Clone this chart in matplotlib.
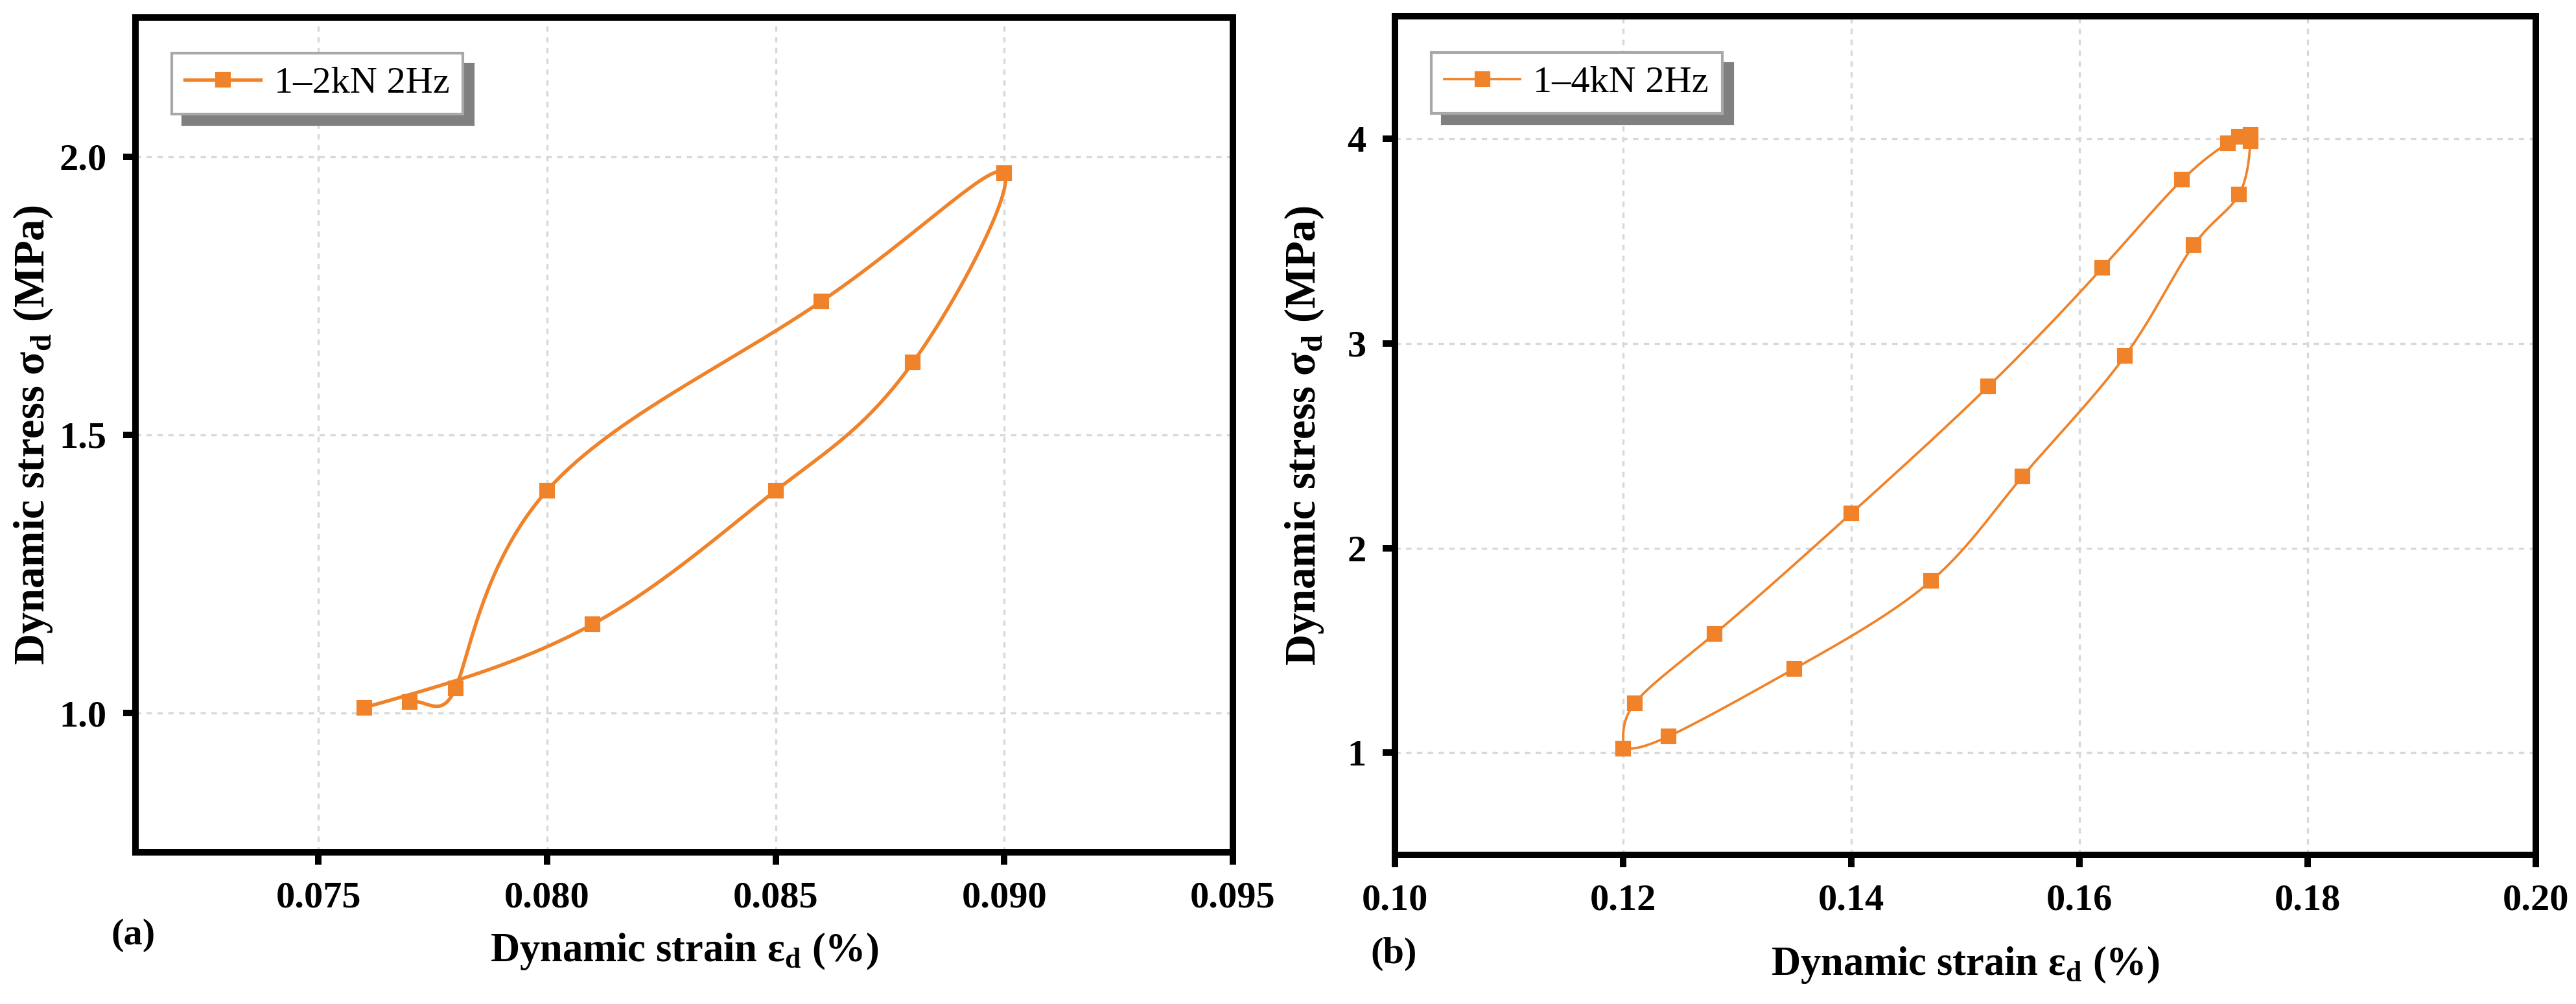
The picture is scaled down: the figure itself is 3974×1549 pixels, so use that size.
import numpy as np
import matplotlib
matplotlib.use("Agg")
import matplotlib.pyplot as plt

plt.rcParams['font.family'] = ['Liberation Serif', 'DejaVu Serif']
plt.rcParams['mathtext.fontset'] = 'custom'
plt.rcParams['mathtext.rm'] = 'Liberation Serif'
plt.rcParams['mathtext.bf'] = 'Liberation Serif:bold'

# ---- data (in drawing order) ----
strain_a = [0.077, 0.078, 0.080, 0.086, 0.090, 0.088, 0.085, 0.081, 0.076]
stress_a = [1.02, 1.045, 1.40, 1.74, 1.97, 1.63, 1.40, 1.16, 1.01]
label_a = '1–2kN 2Hz'

strain_b = [0.120, 0.121, 0.128, 0.140, 0.152, 0.162, 0.169, 0.173, 0.174, 0.175,
            0.175, 0.174, 0.170, 0.164, 0.155, 0.147, 0.135, 0.124, 0.120]
stress_b = [1.02, 1.24, 1.58, 2.17, 2.79, 3.37, 3.80, 3.98, 4.01, 4.02,
            3.99, 3.73, 3.48, 2.94, 2.35, 1.84, 1.41, 1.08, 1.02]
label_b = '1–4kN 2Hz'

xticks_a = [0.075, 0.080, 0.085, 0.090, 0.095]
yticks_a = [1.0, 1.5, 2.0]
xticks_b = [0.10, 0.12, 0.14, 0.16, 0.18, 0.20]
yticks_b = [1, 2, 3, 4]

ORANGE = '#F0832A'


def cubic_spline(t, v, tt, d0=None):
    """1-d cubic spline v(t); natural ends, or clamped start slope d0"""
    m = len(t)
    h = np.diff(t)
    A = np.zeros((m, m))
    B = np.zeros(m)
    if d0 is None:
        A[0, 0] = 1
    else:
        A[0, 0], A[0, 1] = 2 * h[0], h[0]
        B[0] = 6 * ((v[1] - v[0]) / h[0] - d0)
    A[-1, -1] = 1
    for i in range(1, m - 1):
        A[i, i - 1] = h[i - 1]
        A[i, i] = 2 * (h[i - 1] + h[i])
        A[i, i + 1] = h[i]
        B[i] = 6 * ((v[i + 1] - v[i]) / h[i] - (v[i] - v[i - 1]) / h[i - 1])
    M = np.linalg.solve(A, B)
    k = np.clip(np.searchsorted(t, tt) - 1, 0, m - 2)
    hk = h[k]
    a = t[k + 1] - tt
    b = tt - t[k]
    return (M[k] * a ** 3 / (6 * hk) + M[k + 1] * b ** 3 / (6 * hk)
            + (v[k] / hk - M[k] * hk / 6) * a + (v[k + 1] / hk - M[k + 1] * hk / 6) * b)


def spline_path(xs, ys, dx0=None, dy0=None, n=800):
    # x and y splined separately against the point index (Origin-like spline line)
    t = np.arange(len(xs), dtype=float)
    tt = np.linspace(0, t[-1], n)
    return (cubic_spline(t, np.asarray(xs, float), tt, dx0),
            cubic_spline(t, np.asarray(ys, float), tt, dy0))


def style_axes(ax, xlim, ylim, xticks, yticks, xfmt, yfmt):
    ax.set_xlim(*xlim)
    ax.set_ylim(*ylim)
    ax.set_xticks(xticks)
    ax.set_yticks(yticks)
    ax.set_xticklabels([xfmt.format(v) for v in xticks])
    ax.set_yticklabels([yfmt.format(v) for v in yticks])
    for sp in ax.spines.values():
        sp.set_linewidth(2.4)
    ax.tick_params(direction='out', length=4.6, width=2.4, labelsize=14, pad=6,
                   top=False, right=False)
    for lab in ax.get_xticklabels() + ax.get_yticklabels():
        lab.set_fontweight('bold')
    ax.grid(True, color='#d8d8d8', linestyle=(0, (2.5, 2.5)), linewidth=0.8)
    ax.set_axisbelow(True)


def draw_loop(ax, xs, ys, lw, label, dx0=None, dy0=None):
    cx, cy = spline_path(xs, ys, dx0, dy0)
    ax.plot(cx, cy, color=ORANGE, lw=lw, zorder=3)
    ax.plot(xs, ys, 's', color=ORANGE, ms=4.7, zorder=4)
    # proxy for the legend (line with a square in the middle)
    ax.plot([], [], '-s', color=ORANGE, lw=lw, ms=4.7, label=label)


W, H = 3974, 1549
fig = plt.figure(figsize=(W / 300, H / 300), dpi=300)

ax1 = fig.add_axes([209 / W, 1 - 1315 / H, 1693 / W, 1288 / H])
ax2 = fig.add_axes([2152 / W, 1 - 1319 / H, 1760 / W, 1294 / H])

style_axes(ax1, (0.071, 0.095), (0.75, 2.25), xticks_a, yticks_a, '{:.3f}', '{:.1f}')
style_axes(ax2, (0.10, 0.20), (0.5, 4.6), xticks_b, yticks_b, '{:.2f}', '{:d}')

draw_loop(ax1, strain_a, stress_a, 1.3, label_a, dy0=0.025)
draw_loop(ax2, strain_b, stress_b, 0.9, label_b, dx0=0.0)

xl = r'Dynamic strain ε$_{\mathregular{d}}$ (%)'
yl = r'Dynamic stress σ$_{\mathregular{d}}$ (MPa)'
for ax, ylx, xly in [(ax1, -0.074, -0.094), (ax2, -0.061, -0.107)]:
    ax.set_xlabel(xl, fontsize=15, fontweight='bold')
    ax.set_ylabel(yl, fontsize=16, fontweight='bold')
    ax.yaxis.set_label_coords(ylx, 0.5)
    ax.xaxis.set_label_coords(0.5, xly)

shadow = {'ox': 4, 'oy': -4, 'facecolor': '#808080', 'edgecolor': '#808080', 'alpha': 1}
for ax, anchor in [(ax1, (0.0331, 0.9573)), (ax2, (0.0318, 0.9567))]:
    leg = ax.legend(loc='upper left', bbox_to_anchor=anchor, borderaxespad=0,
                    fontsize=14, frameon=True, fancybox=False, framealpha=1,
                    edgecolor='#a8a8a8', shadow=shadow, handlelength=2.0,
                    handletextpad=0.35, borderpad=0.35)
    leg.get_frame().set_linewidth(1.0)

fig.text(171 / W, 1 - 1443 / H, '(a)', fontsize=14, fontweight='bold', ha='left', va='center')
fig.text(2114 / W, 1 - 1472 / H, '(b)', fontsize=14, fontweight='bold', ha='left', va='center')

fig.savefig('out.png', dpi=300)
